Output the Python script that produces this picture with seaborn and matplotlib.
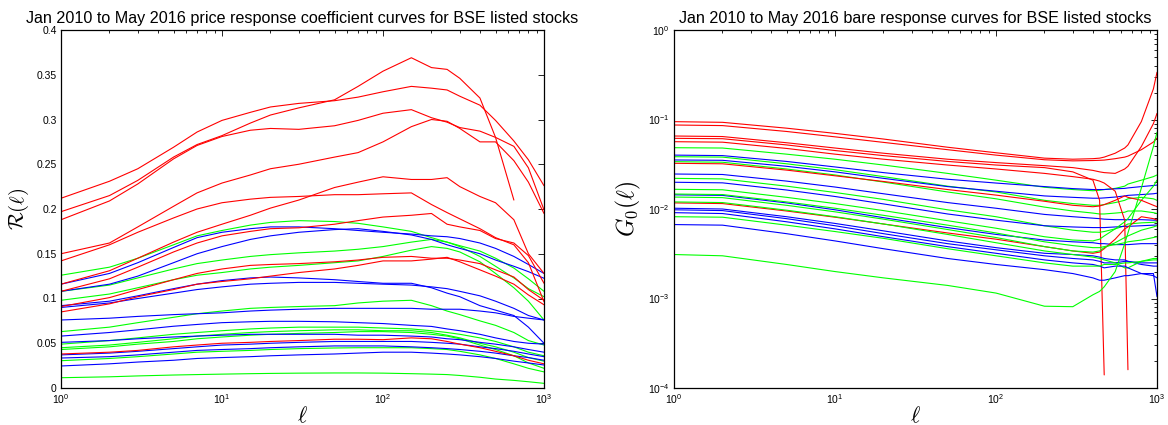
import numpy as np
import pandas as pd
import matplotlib
matplotlib.use("Agg")
import matplotlib.pyplot as plt
import seaborn as sns
from matplotlib.ticker import FixedLocator, FuncFormatter, LogLocator, NullFormatter

nan = np.nan

# ---------------- left panel: price response coefficient R(l) ----------------
LAGS_LEFT = [1, 2, 3, 5, 7, 10, 15, 20, 30, 50, 70, 100, 150, 200, 250, 300, 400, 500, 650, 800, 1000]

LEFT_RED = [
    [0.197, 0.215, 0.232, 0.258, 0.272, 0.282, 0.296, 0.305, 0.313, 0.322, 0.337, 0.354, 0.369, 0.358, 0.356, 0.346, 0.324, 0.280, 0.210, nan, nan],
    [0.212, 0.231, 0.245, 0.269, 0.286, 0.299, 0.308, 0.314, 0.318, 0.321, 0.325, 0.331, 0.337, 0.335, 0.333, 0.326, 0.316, 0.299, 0.276, 0.255, 0.226],
    [0.188, 0.209, 0.228, 0.256, 0.271, 0.281, 0.288, 0.290, 0.289, 0.293, 0.299, 0.307, 0.311, 0.302, 0.297, 0.291, 0.287, 0.280, 0.270, 0.246, 0.199],
    [0.150, 0.162, 0.180, 0.203, 0.218, 0.229, 0.238, 0.245, 0.250, 0.258, 0.263, 0.275, 0.292, 0.300, 0.298, 0.290, 0.275, 0.275, 0.254, 0.230, 0.195],
    [0.116, 0.131, 0.145, 0.163, 0.174, 0.183, 0.193, 0.201, 0.210, 0.224, 0.230, 0.236, 0.233, 0.233, 0.235, 0.225, 0.214, 0.207, 0.188, 0.150, 0.128],
    [0.142, 0.160, 0.174, 0.190, 0.200, 0.207, 0.211, 0.213, 0.214, 0.216, 0.216, 0.217, 0.218, 0.205, 0.196, 0.189, 0.178, 0.168, 0.160, 0.140, 0.0964],
    [0.108, 0.122, 0.135, 0.152, 0.162, 0.170, 0.175, 0.178, 0.179, 0.183, 0.187, 0.191, 0.193, 0.195, 0.183, 0.180, 0.176, 0.167, 0.162, 0.148, 0.117],
    [0.091, 0.101, 0.110, 0.121, 0.128, 0.133, 0.137, 0.138, 0.139, 0.141, 0.143, 0.146, 0.147, 0.145, 0.145, 0.143, 0.139, 0.132, 0.124, 0.110, 0.098],
    [0.085, 0.094, 0.102, 0.110, 0.116, 0.119, 0.122, 0.125, 0.129, 0.133, 0.137, 0.142, 0.142, 0.144, 0.146, 0.141, 0.132, 0.125, 0.116, 0.104, 0.093],
    [0.038, 0.040, 0.042, 0.046, 0.048, 0.050, 0.051, 0.052, 0.053, 0.0545, 0.0545, 0.054, 0.056, 0.055, 0.052, 0.049, 0.045, 0.041, 0.036, 0.031, 0.027],
]

LEFT_GREEN = [
    [0.126, 0.135, 0.145, 0.160, 0.170, 0.176, 0.182, 0.185, 0.187, 0.186, 0.184, 0.180, 0.175, 0.168, 0.163, 0.159, 0.153, 0.145, 0.134, 0.122, 0.108],
    [0.108, 0.115, 0.123, 0.133, 0.139, 0.143, 0.147, 0.149, 0.151, 0.153, 0.155, 0.158, 0.163, 0.166, 0.163, 0.158, 0.147, 0.136, 0.123, 0.111, 0.102],
    [0.098, 0.105, 0.112, 0.121, 0.126, 0.129, 0.133, 0.135, 0.137, 0.140, 0.142, 0.147, 0.154, 0.158, 0.156, 0.152, 0.141, 0.128, 0.112, 0.097, 0.076],
    [0.063, 0.068, 0.073, 0.079, 0.083, 0.086, 0.089, 0.090, 0.091, 0.092, 0.095, 0.097, 0.098, 0.092, 0.086, 0.082, 0.075, 0.070, 0.062, 0.053, 0.048],
    [0.049, 0.053, 0.056, 0.060, 0.062, 0.064, 0.066, 0.067, 0.068, 0.068, 0.068, 0.067, 0.066, 0.064, 0.062, 0.060, 0.056, 0.052, 0.046, 0.040, 0.036],
    [0.045, 0.048, 0.051, 0.055, 0.058, 0.060, 0.062, 0.063, 0.064, 0.065, 0.065, 0.064, 0.064, 0.062, 0.059, 0.056, 0.050, 0.046, 0.040, 0.034, 0.030],
    [0.043, 0.046, 0.049, 0.052, 0.055, 0.057, 0.059, 0.060, 0.061, 0.062, 0.063, 0.063, 0.062, 0.060, 0.058, 0.055, 0.048, 0.043, 0.036, 0.028, 0.022],
    [0.0305, 0.033, 0.035, 0.038, 0.040, 0.041, 0.042, 0.043, 0.044, 0.0447, 0.045, 0.045, 0.045, 0.044, 0.043, 0.041, 0.037, 0.033, 0.027, 0.022, 0.018],
    [0.0115, 0.0125, 0.0135, 0.0145, 0.015, 0.0155, 0.016, 0.0163, 0.0166, 0.0168, 0.0168, 0.0166, 0.016, 0.0155, 0.015, 0.014, 0.012, 0.010, 0.0085, 0.007, 0.0052],
]

LEFT_BLUE = [
    [0.116, 0.128, 0.140, 0.157, 0.168, 0.174, 0.178, 0.180, 0.180, 0.178, 0.176, 0.174, 0.172, 0.170, 0.169, 0.167, 0.162, 0.156, 0.147, 0.138, 0.128],
    [0.108, 0.116, 0.125, 0.140, 0.150, 0.158, 0.166, 0.170, 0.174, 0.177, 0.178, 0.175, 0.171, 0.166, 0.160, 0.156, 0.150, 0.143, 0.136, 0.130, 0.1226],
    [0.092, 0.097, 0.103, 0.111, 0.116, 0.120, 0.123, 0.124, 0.123, 0.121, 0.119, 0.117, 0.117, 0.112, 0.106, 0.102, 0.092, 0.087, 0.081, 0.068, 0.050],
    [0.090, 0.095, 0.100, 0.106, 0.110, 0.113, 0.116, 0.117, 0.118, 0.118, 0.117, 0.116, 0.115, 0.113, 0.111, 0.108, 0.103, 0.097, 0.089, 0.081, 0.076],
    [0.076, 0.078, 0.080, 0.082, 0.083, 0.084, 0.086, 0.087, 0.088, 0.089, 0.089, 0.089, 0.089, 0.088, 0.088, 0.088, 0.086, 0.084, 0.080, 0.078, 0.076],
    [0.058, 0.062, 0.065, 0.069, 0.071, 0.073, 0.074, 0.0745, 0.0745, 0.074, 0.073, 0.072, 0.070, 0.0688, 0.066, 0.064, 0.060, 0.056, 0.052, 0.050, 0.049],
    [0.051, 0.053, 0.055, 0.057, 0.058, 0.059, 0.060, 0.060, 0.060, 0.060, 0.059, 0.059, 0.058, 0.057, 0.055, 0.054, 0.051, 0.049, 0.046, 0.043, 0.040],
    [0.037, 0.039, 0.041, 0.044, 0.046, 0.048, 0.049, 0.050, 0.051, 0.052, 0.052, 0.052, 0.052, 0.051, 0.050, 0.049, 0.046, 0.044, 0.041, 0.038, 0.035],
    [0.0335, 0.035, 0.037, 0.040, 0.042, 0.043, 0.044, 0.045, 0.046, 0.047, 0.047, 0.047, 0.046, 0.045, 0.044, 0.043, 0.041, 0.039, 0.036, 0.034, 0.031],
    [0.0246, 0.027, 0.029, 0.031, 0.033, 0.034, 0.035, 0.036, 0.037, 0.038, 0.039, 0.040, 0.040, 0.039, 0.038, 0.037, 0.035, 0.033, 0.030, 0.028, 0.0257],
]

# ---------------- right panel: bare response G0(l) ----------------
LAGS_RIGHT = [1, 2, 5, 10, 20, 50, 100, 200, 300, 400, 440, 470, 550, 630, 660, 800, 950, 1000]

RIGHT_RED = [
    [0.0946, 0.093, 0.080, 0.070, 0.0605, 0.049, 0.0425, 0.037, 0.036, 0.0365, 0.037, 0.038, 0.042, 0.048, 0.052, 0.095, 0.22, 0.337],
    [0.0868, 0.0855, 0.0735, 0.064, 0.0555, 0.046, 0.040, 0.0355, 0.0345, 0.0348, 0.035, 0.0352, 0.0365, 0.038, 0.039, 0.046, 0.056, 0.062],
    [0.0654, 0.0645, 0.055, 0.048, 0.042, 0.036, 0.033, 0.0305, 0.029, 0.027, 0.026, 0.0255, 0.025, 0.028, 0.030, 0.050, 0.090, 0.117],
    [0.0616, 0.061, 0.052, 0.045, 0.0395, 0.034, 0.031, 0.029, 0.026, 0.021, 0.0125, 0.00014, nan, nan, nan, nan, nan, nan],
    [0.0565, 0.0558, 0.0475, 0.041, 0.036, 0.031, 0.028, 0.025, 0.023, 0.0215, 0.0205, 0.0195, 0.0158, 0.0075, 0.00016, nan, nan, nan],
    [0.0324, 0.032, 0.0272, 0.0235, 0.0203, 0.0165, 0.0143, 0.0122, 0.0110, 0.0106, 0.0108, 0.0112, 0.0125, 0.0140, 0.0135, 0.0125, 0.011, 0.0106],
    [0.0117, 0.0115, 0.0095, 0.0081, 0.0068, 0.0054, 0.0046, 0.0038, 0.0034, 0.0032, 0.0033, 0.0036, 0.0046, 0.0060, 0.0063, 0.0082, 0.0078, 0.0075],
]

RIGHT_GREEN = [
    [0.0484, 0.048, 0.041, 0.036, 0.031, 0.025, 0.021, 0.0175, 0.0165, 0.016, 0.0162, 0.0165, 0.017, 0.018, 0.019, 0.021, 0.023, 0.024],
    [0.0384, 0.038, 0.032, 0.0275, 0.023, 0.018, 0.0155, 0.0125, 0.0115, 0.011, 0.011, 0.0112, 0.0118, 0.0125, 0.013, 0.0135, 0.013, 0.0125],
    [0.0338, 0.0333, 0.028, 0.024, 0.020, 0.0155, 0.013, 0.0105, 0.0095, 0.009, 0.0088, 0.0088, 0.009, 0.0092, 0.0095, 0.0095, 0.0091, 0.0089],
    [0.022, 0.0217, 0.018, 0.0153, 0.0128, 0.0098, 0.0082, 0.0065, 0.0058, 0.0055, 0.0055, 0.0056, 0.006, 0.0065, 0.0068, 0.007, 0.0071, 0.0072],
    [0.0166, 0.0164, 0.0135, 0.0115, 0.0096, 0.0074, 0.0061, 0.0049, 0.0045, 0.0044, 0.0046, 0.005, 0.006, 0.0072, 0.0078, 0.0125, 0.018, 0.021],
    [0.0147, 0.0145, 0.012, 0.0102, 0.0085, 0.0066, 0.0054, 0.0043, 0.0039, 0.0037, 0.0037, 0.0038, 0.004, 0.0042, 0.0043, 0.0045, 0.0048, 0.0049],
    [0.0136, 0.0134, 0.011, 0.0093, 0.0077, 0.0059, 0.0048, 0.0038, 0.0034, 0.0033, 0.0034, 0.0037, 0.0042, 0.0048, 0.005, 0.0058, 0.0063, 0.0065],
    [0.012, 0.0118, 0.0097, 0.0082, 0.0068, 0.0052, 0.0042, 0.0034, 0.0031, 0.0029, 0.0028, 0.0027, 0.0025, 0.0022, 0.0022, 0.0026, 0.0028, 0.0028],
    [0.0082, 0.0081, 0.0066, 0.0056, 0.0047, 0.0036, 0.0030, 0.0025, 0.0023, 0.0023, 0.0023, 0.0024, 0.0024, 0.0025, 0.0025, 0.0026, 0.0027, 0.0027],
    [0.0031, 0.0030, 0.0024, 0.0020, 0.0017, 0.0014, 0.00115, 0.00082, 0.00081, 0.0011, 0.0012, 0.00135, 0.0020, 0.0041, 0.0054, 0.0172, 0.050, 0.072],
]

RIGHT_BLUE = [
    [0.040, 0.0395, 0.034, 0.0295, 0.0255, 0.0215, 0.0195, 0.0178, 0.0169, 0.0165, 0.0165, 0.0165, 0.0168, 0.017, 0.0172, 0.0178, 0.0183, 0.0185],
    [0.0353, 0.035, 0.030, 0.026, 0.022, 0.0178, 0.0158, 0.0140, 0.0135, 0.0132, 0.0132, 0.0133, 0.0136, 0.014, 0.0142, 0.0145, 0.0148, 0.015],
    [0.0246, 0.0243, 0.0205, 0.0176, 0.0148, 0.0118, 0.0102, 0.0087, 0.0082, 0.0079, 0.0078, 0.0077, 0.0076, 0.0076, 0.0076, 0.0076, 0.0075, 0.0075],
    [0.0199, 0.0196, 0.0163, 0.0138, 0.0114, 0.0088, 0.0075, 0.0065, 0.0063, 0.0062, 0.0062, 0.0062, 0.0063, 0.0064, 0.0064, 0.0065, 0.0066, 0.0066],
    [0.0144, 0.0142, 0.0117, 0.0098, 0.0080, 0.0062, 0.0052, 0.0045, 0.0043, 0.0042, 0.0041, 0.0041, 0.0040, 0.0040, 0.0040, 0.0041, 0.0041, 0.0041],
    [0.0102, 0.0100, 0.0082, 0.0069, 0.0057, 0.0044, 0.0037, 0.0032, 0.0031, 0.0030, 0.0029, 0.0028, 0.0027, 0.0027, 0.0026, 0.0025, 0.0025, 0.0025],
    [0.0098, 0.0096, 0.0078, 0.0065, 0.0053, 0.0041, 0.0035, 0.0030, 0.0028, 0.0027, 0.0026, 0.0025, 0.0025, 0.0026, 0.0026, 0.0024, 0.0023, 0.0023],
    [0.0091, 0.0089, 0.0072, 0.0060, 0.0049, 0.0038, 0.0032, 0.0027, 0.0025, 0.0024, 0.0023, 0.0022, 0.0023, 0.0023, 0.0022, 0.0019, 0.0018, 0.0017],
    [0.0067, 0.0066, 0.0053, 0.0044, 0.0036, 0.0028, 0.0024, 0.0021, 0.0019, 0.0017, 0.0016, 0.0016, 0.0017, 0.0018, 0.0018, 0.0019, 0.0019, 0.00105],
]

TITLE_LEFT = "Jan 2010 to May 2016 price response coefficient curves for BSE listed stocks"
TITLE_RIGHT = "Jan 2010 to May 2016 bare response curves for BSE listed stocks"
LEFT_YTICKS = [0, 0.05, 0.1, 0.15, 0.2, 0.25, 0.3, 0.35, 0.4]

COLORS = {"red": "#ff0000", "green": "#00ff00", "blue": "#0000ff"}


def long_frame(lags, groups):
    """Interleave the colour groups so no single colour is always on top."""
    rows, order, palette = [], [], {}
    n = max(len(c) for _, c in groups)
    for i in range(n):
        for cname, curves in groups:
            if i < len(curves):
                name = f"{cname}{i}"
                order.append(name)
                palette[name] = COLORS[cname]
                for l, v in zip(lags, curves[i]):
                    rows.append({"l": l, "v": v, "curve": name})
    df = pd.DataFrame(rows).dropna()
    return df, order, palette


sns.set_theme(style="white")
plt.rcParams["font.family"] = ["Liberation Sans", "DejaVu Sans"]
plt.rcParams["mathtext.fontset"] = "custom"
plt.rcParams["mathtext.rm"] = "Liberation Sans"
plt.rcParams["mathtext.it"] = "Liberation Sans:italic"
plt.rcParams["mathtext.bf"] = "Liberation Sans:bold"
plt.rcParams["text.color"] = "black"
plt.rcParams["axes.labelcolor"] = "black"
plt.rcParams["axes.titlecolor"] = "black"

W, H = 1168, 425
fig = plt.figure(figsize=(W / 100, H / 100), dpi=100)
fig.patch.set_facecolor("white")
ax1 = fig.add_axes([61 / W, 37 / H, 483 / W, 358 / H])
ax2 = fig.add_axes([674 / W, 37 / H, 483 / W, 358 / H])

ax1.set_xscale("log")
ax2.set_xscale("log")
ax2.set_yscale("log")

df1, o1, p1 = long_frame(LAGS_LEFT, [("red", LEFT_RED), ("green", LEFT_GREEN), ("blue", LEFT_BLUE)])
df2, o2, p2 = long_frame(LAGS_RIGHT, [("red", RIGHT_RED), ("green", RIGHT_GREEN), ("blue", RIGHT_BLUE)])

sns.lineplot(data=df1, x="l", y="v", hue="curve", hue_order=o1, palette=p1,
             estimator=None, sort=False, legend=False, lw=0.8, ax=ax1)
sns.lineplot(data=df2, x="l", y="v", hue="curve", hue_order=o2, palette=p2,
             estimator=None, sort=False, legend=False, lw=0.8, ax=ax2)

ax1.set_xlim(1, 1000)
ax1.set_ylim(0, 0.4)
ax1.yaxis.set_major_locator(FixedLocator(LEFT_YTICKS))
ax1.yaxis.set_major_formatter(FuncFormatter(lambda v, p: f"{v:g}"))

ax2.set_xlim(1, 1000)
ax2.set_ylim(1e-4, 1)
ax2.yaxis.set_major_locator(LogLocator(base=10, numticks=10))
ax2.yaxis.set_minor_locator(LogLocator(base=10, subs=np.arange(2, 10), numticks=20))
ax2.yaxis.set_minor_formatter(NullFormatter())

for ax in (ax1, ax2):
    ax.xaxis.set_major_locator(LogLocator(base=10, numticks=10))
    ax.xaxis.set_minor_locator(LogLocator(base=10, subs=np.arange(2, 10), numticks=20))
    ax.xaxis.set_minor_formatter(NullFormatter())
    ax.tick_params(which="both", direction="in", top=True, right=True,
                   labelsize=7.5, colors="black", width=0.6, pad=3)
    ax.tick_params(which="major", length=4)
    ax.tick_params(which="minor", length=2)
    for s in ax.spines.values():
        s.set_visible(True)
        s.set_color("black")
        s.set_linewidth(0.9)
    ax.set_facecolor("white")
    ax.grid(False)
    ax.set_xlabel(r"$\ell$", fontsize=16, math_fontfamily="cm", color="black")
    ax.xaxis.set_label_coords(0.5, -0.05)

ax1.set_title(TITLE_LEFT, fontsize=11.6, pad=5, color="black")
ax2.set_title(TITLE_RIGHT, fontsize=11.6, pad=5, color="black")

ax1.set_ylabel(r"$\mathcal{R}(\ell)$", fontsize=15, math_fontfamily="cm", color="black")
ax1.yaxis.set_label_coords(-0.062, 0.5)
ax2.set_ylabel(r"$G_0(\ell)$", fontsize=17, math_fontfamily="cm", color="black")
ax2.yaxis.set_label_coords(-0.064, 0.5)

fig.savefig("out.png", dpi=100, facecolor="white")
